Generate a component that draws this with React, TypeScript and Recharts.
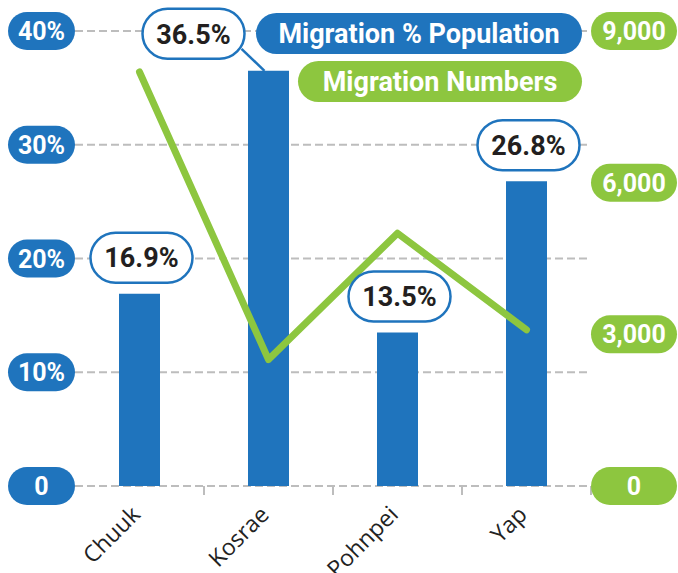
import { Bar, CartesianGrid, ComposedChart, LabelList, Legend, Line, XAxis, YAxis } from "recharts";

const islands = ["Chuuk", "Kosrae", "Pohnpei", "Yap"];
const migrationPct = [16.9, 36.5, 13.5, 26.8];
const migrationNumbers = [8190, 2500, 5000, 3090];
const pctTicks = [0, 10, 20, 30, 40];
const numberTicks = [0, 3000, 6000, 9000];

const data = islands.map((island, i) => ({
  island,
  pct: migrationPct[i],
  num: migrationNumbers[i],
}));

const BLUE = "#1f74bd";
const GREEN = "#8dc63f";
const GRID = "#bdbdbd";
const W = 678;
const H = 573;
const LEFT_W = 75;
const RIGHT_W = 87;
const TOP = 31;
const BOTTOM_H = 87;
const band = (W - LEFT_W - RIGHT_W) / islands.length;
const FONT = "Roboto, sans-serif";

function PctTick({ y, payload }: any) {
  const label = payload.value === 0 ? "0" : `${payload.value}%`;
  return (
    <g>
      <rect x={8} y={y - 19} width={67} height={38} rx={19} fill={BLUE} />
      <text x={41.5} y={y} dy="0.36em" textAnchor="middle" fill="#fff" fontSize={25} fontWeight={700} fontFamily={FONT}>
        {label}
      </text>
    </g>
  );
}

function NumberTick({ y, payload }: any) {
  return (
    <g>
      <rect x={591} y={y - 19} width={86} height={38} rx={19} fill={GREEN} />
      <text x={634} y={y} dy="0.36em" textAnchor="middle" fill="#fff" fontSize={25} fontWeight={700} fontFamily={FONT}>
        {payload.value.toLocaleString("en-US")}
      </text>
    </g>
  );
}

function IslandTick({ x, payload }: any) {
  const base = H - BOTTOM_H;
  return (
    <g>
      <line x1={x + band / 2} x2={x + band / 2} y1={base} y2={base + 9} stroke={GRID} strokeWidth={2} />
      <text
        transform={`translate(${x + 2},${base + 30}) rotate(-45)`}
        textAnchor="end"
        fontSize={23}
        fill="#222"
        fontFamily="'Open Sans', sans-serif"
      >
        {payload.value}
      </text>
    </g>
  );
}

function PctLabel(props: any) {
  const { x, y, width, value, index } = props;
  const cx = x + width / 2;
  // Kosrae's label sits off to the left with a leader line
  const shifted = index === 1;
  const px = shifted ? cx - 75 : cx + 2;
  const py = shifted ? y - 37 : y - 36;
  return (
    <g>
      {shifted && <line x1={px + 48} y1={py + 15} x2={cx - 4} y2={y} stroke={BLUE} strokeWidth={2.5} />}
      <rect x={px - 51} y={py - 25} width={102} height={50} rx={25} fill="#fff" stroke={BLUE} strokeWidth={2.5} />
      <text x={px} y={py} dy="0.36em" textAnchor="middle" fill="#231f20" fontSize={27} fontWeight={700} fontFamily={FONT}>
        {`${value}%`}
      </text>
    </g>
  );
}

function LegendPills() {
  const pill = (label: string, color: string, width: number) => (
    <div
      style={{
        width,
        height: 41,
        borderRadius: 21,
        background: color,
        color: "#fff",
        fontFamily: FONT,
        fontWeight: 700,
        fontSize: 27,
        display: "flex",
        alignItems: "center",
        justifyContent: "center",
        boxSizing: "border-box",
      }}
    >
      {label}
    </div>
  );
  return (
    <div style={{ display: "flex", flexDirection: "column", alignItems: "flex-end", gap: 7 }}>
      {pill("Migration % Population", BLUE, 326)}
      {pill("Migration Numbers", GREEN, 284)}
    </div>
  );
}

export default function App() {
  return (
    <div style={{ position: "absolute", left: 0, top: 0, width: W, height: H, background: "#fff" }}>
      <ComposedChart width={W} height={H} data={data} margin={{ top: TOP, right: 0, bottom: 0, left: 0 }}>
        <CartesianGrid yAxisId="pct" vertical={false} stroke={GRID} strokeWidth={2} strokeDasharray="8 4" />
        <XAxis
          dataKey="island"
          height={BOTTOM_H}
          axisLine={false}
          tickLine={false}
          interval={0}
          tick={<IslandTick />}
        />
        <YAxis
          yAxisId="pct"
          orientation="left"
          width={LEFT_W}
          domain={[0, 40]}
          ticks={pctTicks}
          axisLine={false}
          tickLine={false}
          tick={<PctTick />}
        />
        <YAxis
          yAxisId="num"
          orientation="right"
          width={RIGHT_W}
          domain={[0, 9000]}
          ticks={numberTicks}
          axisLine={false}
          tickLine={false}
          tick={<NumberTick />}
        />
        <Legend
          layout="horizontal"
          verticalAlign="middle"
          align="center"
          wrapperStyle={{ top: 13, left: 256, width: 326 }}
          content={<LegendPills />}
        />
        <Bar yAxisId="pct" dataKey="pct" name="Migration % Population" fill={BLUE} barSize={41} isAnimationActive={false}>
          <LabelList dataKey="pct" content={<PctLabel />} />
        </Bar>
        <Line
          yAxisId="num"
          type="linear"
          dataKey="num"
          name="Migration Numbers"
          stroke={GREEN}
          strokeWidth={7}
          strokeLinecap="round"
          strokeLinejoin="round"
          dot={false}
          activeDot={false}
          isAnimationActive={false}
        />
      </ComposedChart>
    </div>
  );
}
